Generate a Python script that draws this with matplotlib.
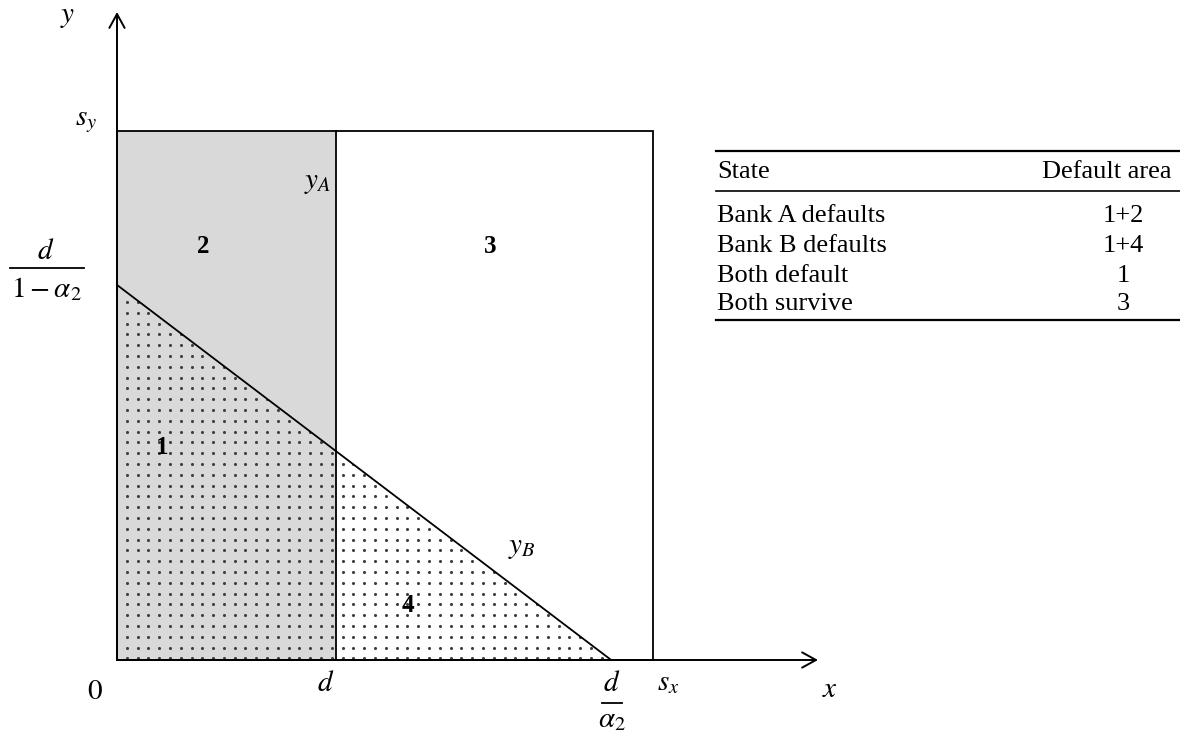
import matplotlib.pyplot as plt
import numpy as np
from matplotlib.patches import Polygon, Rectangle
from matplotlib.lines import Line2D

plt.rcParams['mathtext.fontset'] = 'stix'
plt.rcParams['font.family'] = ['Liberation Serif', 'DejaVu Serif']

# model values (s_x = s_y = 1)
s_x = 1.0
s_y = 1.0
d = 0.409
d_over_a2 = 0.922        # x where y_B hits zero
y_intercept = 0.709      # d / (1 - a2)

table_head = ["State", "Default area"]
states = ["Bank A defaults", "Bank B defaults", "Both default", "Both survive"]
areas = ["1+2", "1+4", "1", "3"]

W, H = 1180, 732
X0, Y0 = 117, 660          # origin in pixels
XS, YS = 536, 529          # pixels per unit


def P(px, py):
    # pixel position -> data coords
    return (px - X0) / XS, (Y0 - py) / YS


def y_B(x):
    return y_intercept * (1 - x / d_over_a2)


fig = plt.figure(figsize=(W / 100, H / 100), dpi=100)
ax = fig.add_axes([0, 0, 1, 1])
ax.set_xlim(-X0 / XS, (W - X0) / XS)
ax.set_ylim(-(H - Y0) / YS, Y0 / YS)
ax.axis("off")

gray = "#d9d9d9"
y_d = y_B(d)

# area 1 + 2 : gray strip left of d
ax.add_patch(Rectangle((0, 0), d, s_y, facecolor=gray, edgecolor="none", zorder=1))

# dotted regions 1 and 4 (below y_B)
area1 = Polygon([(0, 0), (d, 0), (d, y_d), (0, y_intercept)], closed=True,
                facecolor="none", edgecolor="none")
area4 = Polygon([(d, 0), (d_over_a2, 0), (d, y_d)], closed=True,
                facecolor="none", edgecolor="none")
for patch in (area1, area4):
    ax.add_patch(patch)
    gx = np.arange(126.7, 660, 10.8)
    gy = np.arange(410 - 10.8 * 26, 662, 10.8)
    XX, YY = np.meshgrid((gx - X0) / XS, (Y0 - gy) / YS)
    sc = ax.scatter(XX.ravel(), YY.ravel(), s=5.0, color="#404040",
                    linewidths=0, zorder=2)
    sc.set_clip_path(patch)

lw = 1.3
# outer box and the d line
ax.add_patch(Rectangle((0, 0), s_x, s_y, facecolor="none", edgecolor="black",
                       lw=lw, zorder=3))
ax.plot([d, d], [0, s_y], color="black", lw=lw, zorder=3)
ax.plot([0, d_over_a2], [y_intercept, 0], color="black", lw=lw, zorder=3)

# axes arrows
arrow = dict(arrowstyle="->,head_length=1.0,head_width=0.55", lw=1.4, color="black",
             shrinkA=0, shrinkB=0)
ax.annotate("", xy=P(X0, 12), xytext=(0, 0), arrowprops=arrow, zorder=4)
ax.annotate("", xy=P(818, Y0), xytext=(0, 0), arrowprops=arrow, zorder=4)

mfs = 21
ax.text(*P(68, 17), r"$y$", fontsize=mfs, ha="center", va="center")
ax.text(*P(86, 122), r"$s_y$", fontsize=mfs, ha="center", va="center")
ax.text(*P(318, 183), r"$y_A$", fontsize=mfs, ha="center", va="center")
ax.text(*P(522, 548), r"$y_B$", fontsize=mfs, ha="center", va="center")
ax.text(*P(95, 692), r"$0$", fontsize=mfs, ha="center", va="center")
ax.text(*P(326, 684), r"$d$", fontsize=mfs, ha="center", va="center")
ax.text(*P(668, 683), r"$s_x$", fontsize=mfs, ha="center", va="center")
ax.text(*P(830, 690), r"$x$", fontsize=mfs, ha="center", va="center")

# fractions drawn by hand: numerator, bar, denominator
ax.text(*P(46, 252), r"$d$", fontsize=mfs, ha="center", va="center")
ax.plot(*zip(P(10, 268), P(84, 268)), color="black", lw=1.3)
ax.text(*P(46, 289), r"$1-\alpha_2$", fontsize=mfs, ha="center", va="center")
ax.text(*P(612, 684), r"$d$", fontsize=mfs, ha="center", va="center")
ax.plot(*zip(P(602, 703), P(622, 703)), color="black", lw=1.3)
ax.text(*P(612, 720), r"$\alpha_2$", fontsize=mfs, ha="center", va="center")

bfs = 18
for lab, (px, py) in zip(["1", "2", "3", "4"],
                         [(162, 448), (203, 247), (490, 247), (408, 605)]):
    ax.text(*P(px, py), lab, fontsize=bfs, fontweight="bold", ha="center", va="center")

# table
tfs = 19
fx = lambda px: px / W
fy = lambda py: 1 - py / H
fig.add_artist(Line2D([fx(716), fx(1180)], [fy(151), fy(151)], color="black", lw=1.6))
fig.add_artist(Line2D([fx(716), fx(1180)], [fy(191), fy(191)], color="black", lw=1.2))
fig.add_artist(Line2D([fx(716), fx(1180)], [fy(320), fy(320)], color="black", lw=1.6))
fig.text(fx(717), fy(172), table_head[0], fontsize=tfs, ha="left", va="center")
fig.text(fx(1171), fy(172), table_head[1], fontsize=tfs, ha="right", va="center")
row_y = [216, 246, 276, 304]
for st, ar, py in zip(states, areas, row_y):
    fig.text(fx(717), fy(py), st, fontsize=tfs, ha="left", va="center")
    fig.text(fx(1123), fy(py), ar, fontsize=tfs, ha="center", va="center")

fig.savefig("out.png", dpi=100)
